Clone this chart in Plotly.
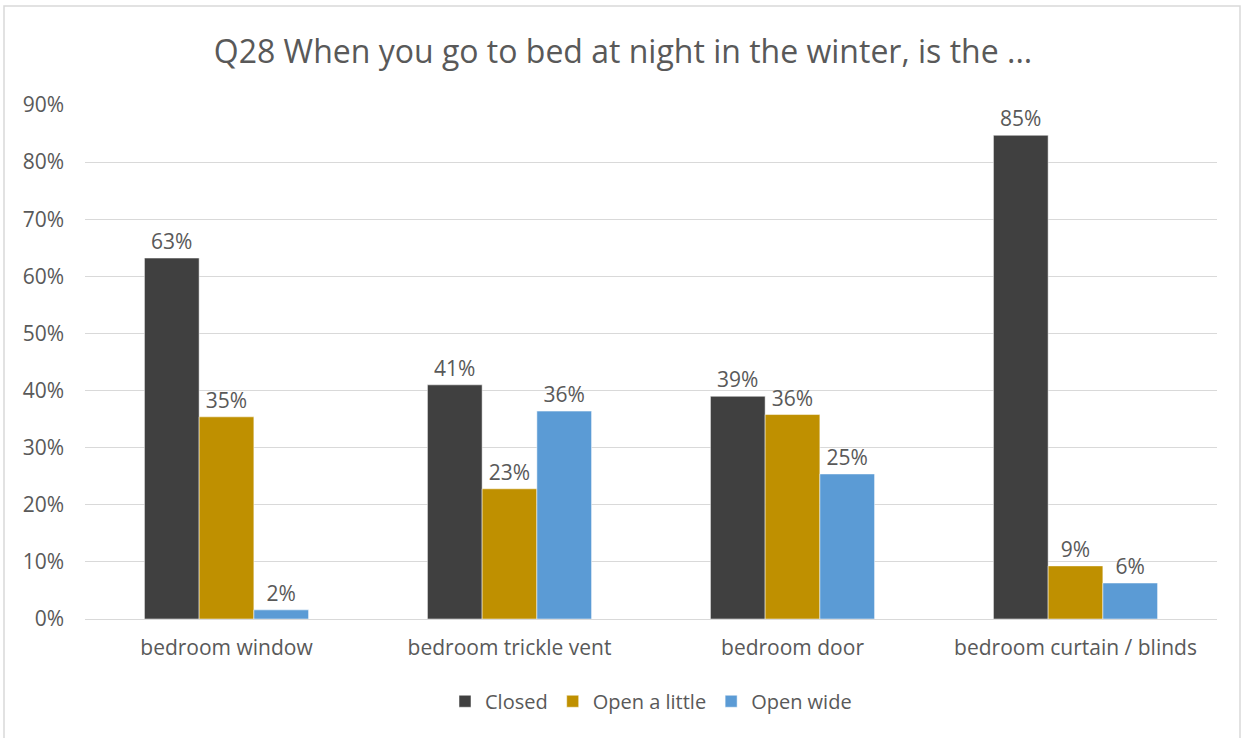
import plotly.graph_objects as go

categories = ["bedroom window", "bedroom trickle vent", "bedroom door", "bedroom curtain / blinds"]
closed = [0.632, 0.410, 0.390, 0.847]
open_little = [0.354, 0.228, 0.358, 0.093]
open_wide = [0.016, 0.364, 0.254, 0.063]

series = [
    ("Closed", closed, "#404040"),
    ("Open a little", open_little, "#BF9000"),
    ("Open wide", open_wide, "#5B9BD5"),
]

FONT = "Open Sans"
GREY = "#595959"

fig = go.Figure()
for name, vals, color in series:
    fig.add_trace(go.Bar(
        name=name, x=categories, y=vals,
        marker=dict(color=color, line=dict(color="white", width=0.5)),
        text=vals, texttemplate="%{y:.0%}", textposition="outside",
        textfont=dict(family=FONT, size=21, color=GREY),
        cliponaxis=False,
    ))

fig.update_layout(
    width=1246, height=738,
    margin=dict(l=85, r=29, t=105, b=119),
    paper_bgcolor="white", plot_bgcolor="white",
    barmode="group", bargap=0.42, bargroupgap=0,
    title=dict(text="Q28 When you go to bed at night in the winter, is the ...",
               x=0.5, xanchor="center", y=1 - 52 / 738, yanchor="middle",
               font=dict(family=FONT, size=32, color=GREY)),
    font=dict(family=FONT, color=GREY),
    showlegend=True,
    legend=dict(orientation="h", x=0.5, xanchor="center", y=-0.16, yanchor="middle",
                font=dict(family=FONT, size=20, color=GREY), traceorder="normal"),
    yaxis=dict(range=[0, 0.9], dtick=0.1, tickformat=".0%",
               gridcolor="#d9d9d9", gridwidth=1, zeroline=False,
               tickfont=dict(family=FONT, size=21, color=GREY),
               ticklabelstandoff=20, showline=False),
    xaxis=dict(showline=True, linecolor="#d9d9d9", linewidth=1,
               tickfont=dict(family=FONT, size=21, color=GREY),
               ticklabelstandoff=10),
    shapes=[dict(type="rect", xref="paper", yref="paper",
                 x0=(4 - 85) / 1132, x1=(1240 - 85) / 1132,
                 y0=(619 - 745) / 514, y1=(619 - 6) / 514,
                 line=dict(color="#d9d9d9", width=1.5), fillcolor="rgba(0,0,0,0)",
                 layer="below")],
)

fig.write_html("out.html")
